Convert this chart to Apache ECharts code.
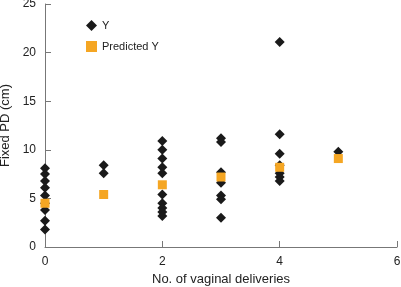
<!DOCTYPE html>
<html>
<head>
<meta charset="utf-8">
<script src="https://cdn.jsdelivr.net/npm/echarts@6/dist/echarts.min.js"></script>
<style>
  html, body { margin: 0; padding: 0; background: #fff; }
  #chart { width: 401px; height: 287px; }
</style>
</head>
<body>
<div id="chart"></div>
<script>
// observed values, one list per delivery count
var deliveries = [0, 1, 2, 3, 4, 5];
var observed = [
    [8.1, 7.5, 6.8, 6.1, 5.3, 4.5, 3.8, 2.7, 1.8],
    [8.4, 7.6],
    [10.9, 10.0, 9.1, 8.2, 7.6, 5.4, 4.5, 4.0, 3.6, 3.2],
    [11.2, 10.8, 7.7, 6.6, 5.3, 4.9, 3.0],
    [21.1, 11.6, 9.6, 8.4, 7.6, 7.2, 6.8],
    [9.8]
];
var predicted = [4.5, 5.4, 6.4, 7.2, 8.2, 9.1];

var font = '"Liberation Sans Narrow", "Liberation Sans", Arial, sans-serif';
var axisColor = '#777';

var yPoints = [];
observed.forEach(function (vals, i) {
    vals.forEach(function (v) { yPoints.push([deliveries[i], v]); });
});
var predPoints = predicted.map(function (v, i) { return [deliveries[i], v]; });

var chart = echarts.init(document.getElementById('chart'));
chart.setOption({
    animation: false,
    grid: { left: 45, right: 4, top: 4, bottom: 40, outerBoundsMode: 'none', containLabel: false },
    legend: {
        orient: 'vertical',
        left: 81,
        top: 15,
        itemWidth: 11,
        itemHeight: 11,
        itemGap: 10,
        textStyle: { fontFamily: font, fontSize: 11, color: '#222' },
        data: [
            { name: 'Y', icon: 'diamond', itemStyle: { color: '#1a1a1a' } },
            { name: 'Predicted Y', icon: 'rect', itemStyle: { color: '#f5a623' } }
        ]
    },
    xAxis: {
        type: 'value',
        min: 0, max: 6, interval: 2,
        name: 'No. of vaginal deliveries',
        nameLocation: 'middle',
        nameGap: 26,
        nameTextStyle: { fontFamily: font, fontSize: 13, color: '#222' },
        axisLine: { show: true, lineStyle: { color: axisColor } },
        axisTick: { show: true, inside: true, length: 6, lineStyle: { color: axisColor } },
        axisLabel: { fontFamily: font, fontSize: 12, color: '#222', margin: 9 },
        splitLine: { show: false }
    },
    yAxis: {
        type: 'value',
        min: 0, max: 25, interval: 5,
        name: 'Fixed PD (cm)',
        nameLocation: 'middle',
        nameGap: 27,
        nameTextStyle: { fontFamily: font, fontSize: 13, color: '#222' },
        axisLine: { show: true, lineStyle: { color: axisColor } },
        axisTick: { show: true, inside: true, length: 6, lineStyle: { color: axisColor } },
        axisLabel: { fontFamily: font, fontSize: 12, color: '#222', margin: 9 },
        splitLine: { show: false }
    },
    series: [
        {
            name: 'Y',
            type: 'scatter',
            symbol: 'diamond',
            symbolSize: 10,
            itemStyle: { color: '#1a1a1a', opacity: 1 },
            data: yPoints
        },
        {
            name: 'Predicted Y',
            type: 'scatter',
            symbol: 'rect',
            symbolSize: 9,
            itemStyle: { color: '#f5a623', opacity: 1 },
            data: predPoints
        }
    ]
});
</script>
</body>
</html>
